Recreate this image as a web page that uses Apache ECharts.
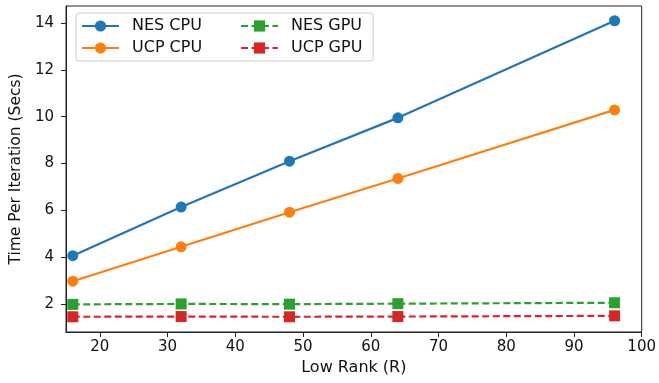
<!DOCTYPE html>
<html>
<head>
<meta charset="utf-8">
<title>Time per iteration</title>
<script src="https://cdn.jsdelivr.net/npm/echarts@6/dist/echarts.min.js"></script>
<style>
  html, body { margin: 0; padding: 0; background: #fff; }
  #chart { width: 659px; height: 383px; }
</style>
</head>
<body>
<div id="chart"></div>
<script>
var ranks = [16, 32, 48, 64, 96]
var nesCpu = [4.06, 6.14, 8.1, 9.95, 14.1]
var ucpCpu = [2.97, 4.44, 5.92, 7.36, 10.29]
var nesGpu = [1.98, 2.0, 1.99, 2.01, 2.05]
var ucpGpu = [1.45, 1.46, 1.45, 1.46, 1.49]
var xTicks = [20, 30, 40, 50, 60, 70, 80, 90, 100]
var yTicks = [2, 4, 6, 8, 10, 12, 14]

function pairs(ys) {
  return ranks.map(function (r, i) { return [r, ys[i]] })
}

var font = 'DejaVu Sans'

function makeSeries(name, values, color, symbol, dashed) {
  return {
    name: name,
    type: 'line',
    data: pairs(values),
    symbol: symbol,
    symbolSize: 11,
    showAllSymbol: true,
    itemStyle: { color: color },
    lineStyle: {
      color: color,
      width: 2.2,
      type: dashed ? [7, 3.5] : 'solid'
    },
    emphasis: { disabled: true },
    z: 3
  }
}

var legendText = {
  fontFamily: font,
  fontSize: 16,
  color: '#111',
  padding: [0, 0, 0, 8]
}

// two legends side by side; the first one carries the frame for both columns
var legendBase = {
  orient: 'vertical',
  top: 13,
  itemGap: 6,
  itemWidth: 37,
  itemHeight: 14,
  textStyle: legendText
}

var chart = echarts.init(document.getElementById('chart'), null, { renderer: 'canvas' })
chart.setOption({
  animation: false,
  backgroundColor: '#fff',
  textStyle: { fontFamily: font },
  grid: {
    left: 66,
    right: 17,
    top: 6,
    bottom: 51,
    show: true,
    borderColor: '#222',
    borderWidth: 1
  },
  legend: [
    Object.assign({}, legendBase, {
      left: 76,
      padding: [5, 171, 5, 5],
      backgroundColor: 'rgba(255,255,255,0.85)',
      borderColor: '#cccccc',
      borderWidth: 1,
      borderRadius: 3,
      data: ['NES CPU', 'UCP CPU']
    }),
    Object.assign({}, legendBase, {
      left: 235,
      padding: [5, 5, 5, 5],
      z: 5,
      data: ['NES GPU', 'UCP GPU']
    })
  ],
  xAxis: {
    type: 'value',
    min: 15,
    max: 100,
    name: 'Low Rank (R)',
    nameLocation: 'middle',
    nameGap: 28,
    nameTextStyle: { fontFamily: font, fontSize: 16, color: '#111' },
    axisLine: { show: true, lineStyle: { color: '#222', width: 1 } },
    axisTick: { show: true, length: 5, customValues: xTicks, lineStyle: { color: '#222' } },
    axisLabel: { customValues: xTicks, margin: 8, fontSize: 15, color: '#111', fontFamily: font },
    splitLine: { show: false }
  },
  yAxis: {
    type: 'value',
    min: 0.8,
    max: 14.73,
    name: 'Time Per Iteration (Secs)',
    nameLocation: 'middle',
    nameGap: 42,
    nameTextStyle: { fontFamily: font, fontSize: 15.5, color: '#111' },
    axisLine: { show: true, lineStyle: { color: '#222', width: 1 } },
    axisTick: { show: true, length: 5, customValues: yTicks, lineStyle: { color: '#222' } },
    axisLabel: { customValues: yTicks, margin: 12, fontSize: 15, color: '#111', fontFamily: font },
    splitLine: { show: false }
  },
  series: [
    makeSeries('NES CPU', nesCpu, '#1f77b4', 'circle', false),
    makeSeries('UCP CPU', ucpCpu, '#ff7f0e', 'circle', false),
    makeSeries('NES GPU', nesGpu, '#2ca02c', 'rect', true),
    makeSeries('UCP GPU', ucpGpu, '#d62728', 'rect', true)
  ]
})
</script>
</body>
</html>
